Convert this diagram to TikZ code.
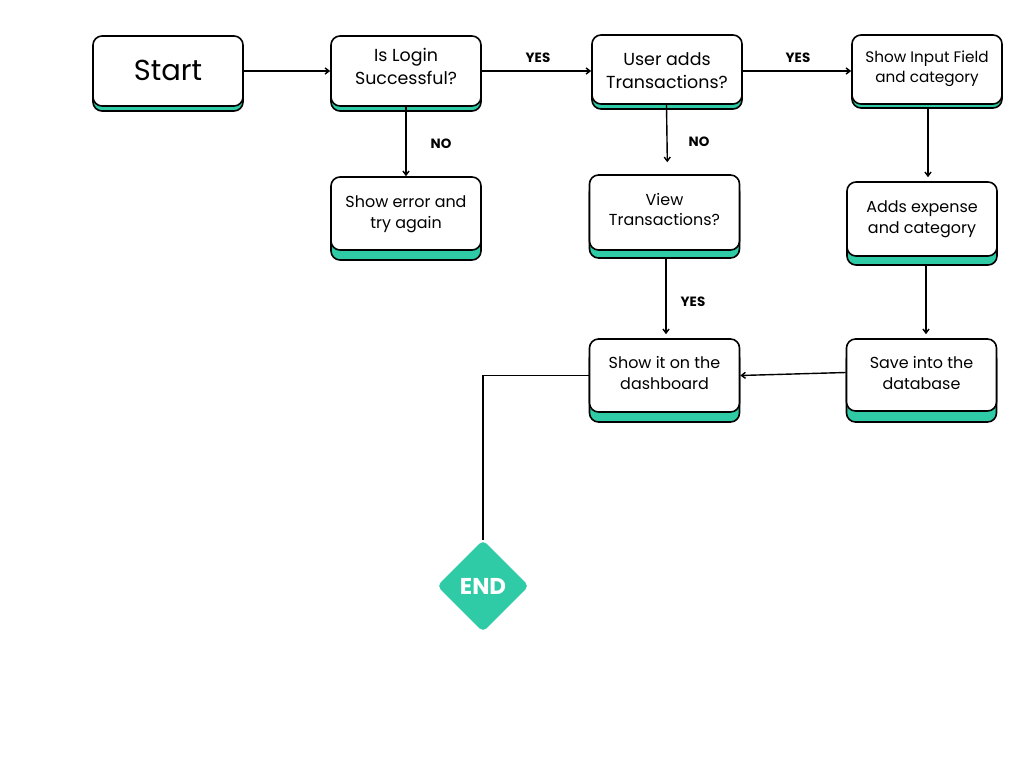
\documentclass[tikz,border=0pt]{standalone}
\usepackage{fontspec}
\setmainfont{Poppins}
\usetikzlibrary{arrows.meta,shadows,shapes.geometric}
\definecolor{mint}{HTML}{2FCBA6}
\tikzset{
  card/.style={draw=black, fill=white, line width=1.6bp, rounded corners=9bp,
    minimum width=150bp,
    general shadow={shadow yshift=-#1, fill=mint, draw=black, line width=1.6bp}},
  card/.default=5bp,
  caption/.style={align=center, inner sep=0pt, font=\fontsize{16}{22}\selectfont},
  flow/.style={line width=1.4bp, -{Straight Barb[length=4bp,width=6bp]}},
  tag/.style={font=\bfseries\fontsize{13.5}{15}\selectfont},
}
\begin{document}
\begin{tikzpicture}[x=1bp,y=-1bp]
\useasboundingbox (0,0) rectangle (1024,768);
% process boxes
\node[card, minimum height=70bp] (start) at (168,71) {};
\node[card, minimum height=70bp] (login) at (406,71) {};
\node[card, minimum height=69bp] (adds) at (667,69.5) {};
\node[card=4bp, minimum height=69bp] (input) at (927,69.5) {};
\node[card=10bp, minimum height=73bp] (error) at (406,213.5) {};
\node[card=8bp, minimum height=75bp] (view) at (664.5,212.5) {};
\node[card=9bp, minimum height=74bp] (expense) at (922,219) {};
\node[card=10bp, minimum height=73bp] (dash) at (664.5,375.5) {};
\node[card=11bp, minimum height=72bp] (save) at (921.5,375) {};
% box captions
\node[caption, font=\fontsize{29}{32}\selectfont] (start-t) at ([yshift=1bp]start.center) {Start};
\node[caption, font=\fontsize{17.5}{23}\selectfont] (login-t) at ([yshift=4.5bp]login.center) {Is Login\\Successful?};
\node[caption, font=\fontsize{17.5}{23}\selectfont] (adds-t) at ([yshift=-1bp]adds.center) {User adds\\Transactions?};
\node[caption, font=\fontsize{15.3}{20}\selectfont] (input-t) at ([yshift=1bp]input.center) {Show Input Field\\and category};
\node[caption, font=\fontsize{16}{21}\selectfont] (error-t) at ([yshift=-1bp]error.center) {Show error and\\try again};
\node[caption, font=\fontsize{16}{21}\selectfont] (view-t) at ([yshift=3bp]view.center) {View\\Transactions?};
\node[caption, font=\fontsize{16}{21}\selectfont] (expense-t) at (expense.center) {Adds expense\\and category};
\node[caption, font=\fontsize{16}{22}\selectfont] (dash-t) at ([yshift=2.5bp]dash.center) {Show it on the\\dashboard};
\node[caption, font=\fontsize{16}{22}\selectfont] (save-t) at ([yshift=2bp]save.center) {Save into the\\database};
% terminal
\node[diamond, fill=mint, minimum width=92bp, minimum height=92bp, inner sep=0pt,
  rounded corners=5bp, text=white, font=\bfseries\fontsize{23}{26}\selectfont] (end) at (483,586) {END};
% connectors
\draw[flow] (start.east) -- (login.west);
\draw[flow] (login.east) -- (login.east -| adds.west);
\draw[flow] (adds.east |- login.east) -- (adds.east |- login.east -| input.west);
\draw[flow] (login.south) -- (error.north);
\draw[flow, shorten >=12bp] ([xshift=-0.5bp]adds.south) -- ([xshift=0.5bp]adds.south |- view.north);
\draw[flow, shorten <=8bp, shorten >=4bp] ([xshift=1.5bp]view.south) -- ([xshift=1.5bp]view.south |- dash.north);
\draw[flow, shorten <=4bp, shorten >=4bp] ([xshift=1bp]input.south) -- ([xshift=1bp]input.south |- expense.north);
\draw[flow, shorten <=9bp, shorten >=4bp] ([xshift=4bp]expense.south) -- ([xshift=4bp]expense.south |- save.north);
\draw[flow] ([yshift=2.5bp]save.west) -- (dash.east);
\draw[line width=1.4bp] (dash.west) -| (end.north);
% branch labels
\node[tag] (y1) at (538,58) {YES};
\node[tag] (y2) at (798,58) {YES};
\node[tag] (n1) at (441,144) {NO};
\node[tag] (n2) at (699,142) {NO};
\node[tag] (y3) at (693,302) {YES};
\end{tikzpicture}
\end{document}
